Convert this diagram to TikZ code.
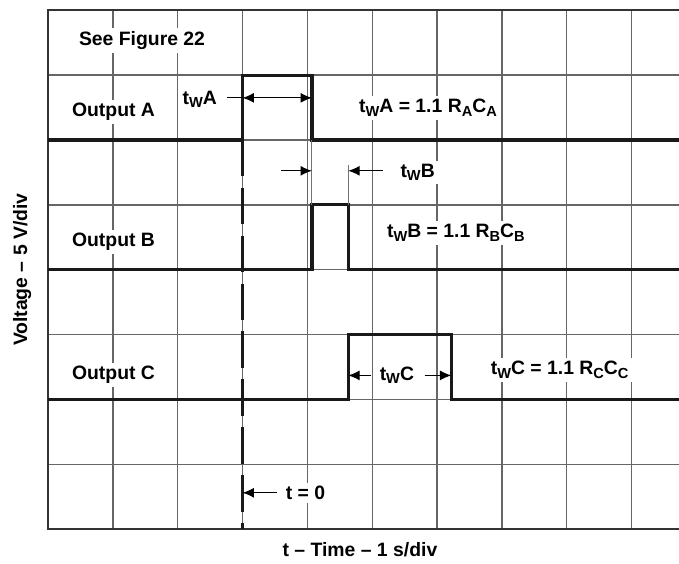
\documentclass[tikz,border=0pt]{standalone}
\usepackage{fontspec}
\setmainfont{Liberation Sans}
\usetikzlibrary{arrows.meta, positioning}
\newcommand{\lowsub}[1]{\raisebox{-0.35ex}{\fontsize{6.4}{7}\selectfont #1}}
\tikzset{
  % Scope grid and traces
  gridline/.style={draw=black!60, line width=0.6pt},
  framebox/.style={draw=black!80, line width=0.9pt},
  trace/.style={draw=black!90, line width=1.4pt},
  extline/.style={draw=black!55, line width=0.45pt},
  zeroline/.style={draw=black!90, line width=1.4pt, dash pattern=on 16pt off 5pt},
  % Labels and dimension arrows
  lbl/.style={font=\fontsize{8.5}{10}\selectfont\bfseries, fill=white, inner sep=1.5pt},
  axislbl/.style={font=\fontsize{8.5}{10}\selectfont\bfseries, inner sep=1.5pt},
  leader/.style={draw=black, line width=0.5pt},
  dimarrow/.style={-{Latex[length=5pt,width=4.4pt]}, line width=0.5pt},
  dimboth/.style={{Latex[length=5pt,width=4.4pt]}-{Latex[length=5pt,width=4.4pt]}, line width=0.5pt},
}

\begin{document}
\begin{tikzpicture}
  \useasboundingbox (-0.74,-0.535) rectangle (9.73,8.159);

  % Grid
  \foreach \x in {1,...,9}
    \draw[gridline] (\x,0) -- (\x,8);
  \foreach \y in {1,...,7}
    \draw[gridline] (0,\y) -- (9.73,\y);
  \draw[framebox] (9.73,8) -- (0,8) -- (0,0) -- (9.73,0);

  % Labels
  \node[lbl] (seefig) at (1.45,7.54) {See Figure 22};
  \node[lbl] (outA) at (1.01,6.43) {Output A};
  \node[lbl] (outB) at (1.01,4.43) {Output B};
  \node[lbl] (outC) at (1.01,2.38) {Output C};
  \node[lbl] (twAlbl) at (2.34,6.63) {t\lowsub{W}A};
  \node[lbl] (eqA) at (5.86,6.5) {t\lowsub{W}A = 1.1 R\lowsub{A}C\lowsub{A}};
  \node[lbl] (twBlbl) at (5.70,5.5) {t\lowsub{W}B};
  \node[lbl] (eqB) at (6.29,4.57) {t\lowsub{W}B = 1.1 R\lowsub{B}C\lowsub{B}};
  \node[lbl] (twClbl) at (5.38,2.37) {t\lowsub{W}C};
  \node[lbl] (eqC) at (7.89,2.46) {t\lowsub{W}C = 1.1 R\lowsub{C}C\lowsub{C}};
  \node[lbl] (tzero) at (3.97,0.56) {t = 0};
  \node[axislbl, rotate=90] (vaxis) at (-0.40,4.0) {Voltage – 5 V/div};
  \node[axislbl] (taxis) at (4.81,-0.31) {t – Time – 1 s/div};

  % Traces
  \draw[trace] (0,6) -- (3,6) |- (4.07,7) -- (4.07,6) -- (9.73,6);
  \draw[trace] (0,4) -- (4.07,4) |- (4.63,5) -- (4.63,4) -- (9.73,4);
  \draw[trace] (0,2) -- (4.63,2) |- (6.22,3) -- (6.22,2) -- (9.73,2);
  \draw[zeroline] (3,6) -- (3,0);
  \draw[extline] (4.07,6) -- (4.07,5);
  \draw[extline] (4.63,5.62) -- (4.63,5);

  % Pulse width A
  \coordinate (twAlead) at (2.76,6.65);
  \coordinate (aRise) at (3,6.65);
  \coordinate (aFall) at (4.07,6.65);
  \draw[leader] (twAlead) -- (aRise);
  \draw[dimboth] (aRise) -- (aFall);

  % Pulse width B
  \coordinate (twBfrom) at (3.6,5.525);
  \coordinate (bRise) at (4.07,5.525);
  \coordinate (bFall) at (4.63,5.525);
  \coordinate (twBto) at (5.16,5.525);
  \draw[dimarrow] (twBfrom) -- (bRise);
  \draw[dimarrow] (twBto) -- (bFall);

  % Pulse width C
  \coordinate (cRise) at (4.63,2.37);
  \coordinate (cFall) at (6.22,2.37);
  \draw[dimarrow, shorten <=2pt] (twClbl.west) -- (cRise);
  \draw[dimarrow, shorten <=3pt] (twClbl.east) -- (cFall);

  % Time zero
  \coordinate (zeroMark) at (3,0.56);
  \draw[dimarrow, shorten <=2pt] (tzero.west) -- (zeroMark);
\end{tikzpicture}
\end{document}
